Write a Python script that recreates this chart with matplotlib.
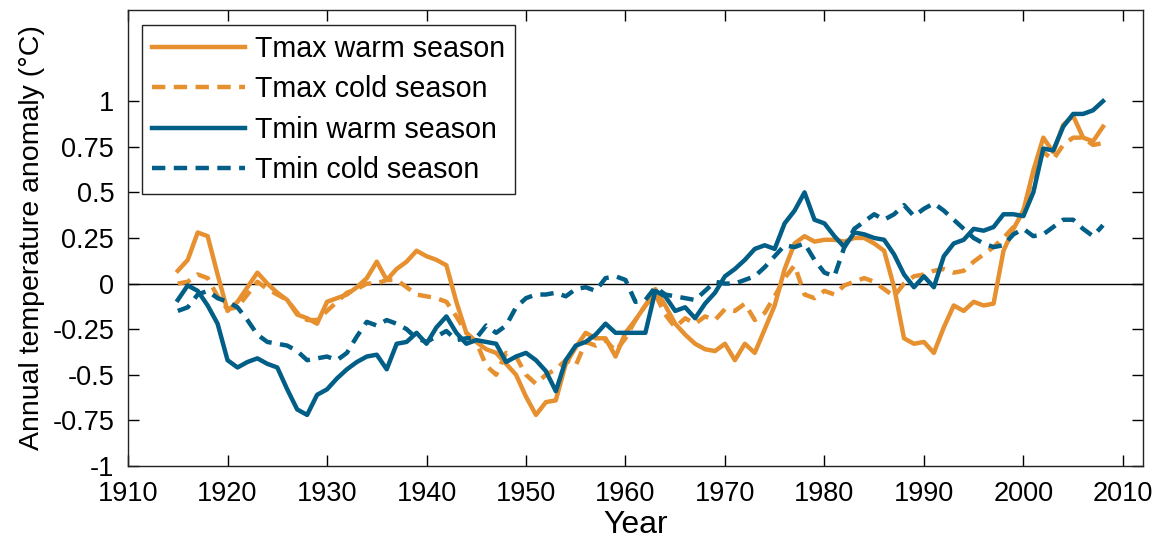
import matplotlib
matplotlib.use("Agg")
import matplotlib.pyplot as plt
import numpy as np

# yearly anomalies, 1915-2008
years = np.arange(1915, 2009)

tmax_warm = [
    0.07, 0.13, 0.28, 0.26, 0.05, -0.15, -0.10, -0.02, 0.06, 0.00,
    -0.05, -0.09, -0.17, -0.19, -0.22, -0.10, -0.08, -0.06, -0.02, 0.03,
    0.12, 0.02, 0.08, 0.12, 0.18, 0.15, 0.13, 0.10, -0.10, -0.27,
    -0.32, -0.36, -0.38, -0.44, -0.50, -0.62, -0.72, -0.65, -0.64, -0.44,
    -0.35, -0.27, -0.30, -0.30, -0.40, -0.27, -0.20, -0.12, -0.03, -0.12,
    -0.22, -0.28, -0.33, -0.36, -0.37, -0.33, -0.42, -0.33, -0.38, -0.25,
    -0.12, 0.08, 0.22, 0.26, 0.23, 0.24, 0.24, 0.23, 0.25, 0.25,
    0.22, 0.18, -0.02, -0.30, -0.33, -0.32, -0.38, -0.24, -0.12, -0.15,
    -0.10, -0.12, -0.11, 0.18, 0.30, 0.40, 0.62, 0.80, 0.72, 0.87,
    0.92, 0.80, 0.78, 0.86,
]

tmax_cold = [
    0.00, 0.01, 0.05, 0.03, -0.07, -0.14, -0.13, -0.06, 0.01, -0.03,
    -0.06, -0.09, -0.16, -0.20, -0.20, -0.15, -0.10, -0.05, -0.03, 0.00,
    0.00, 0.02, 0.02, -0.02, -0.06, -0.07, -0.08, -0.10, -0.18, -0.27,
    -0.32, -0.45, -0.50, -0.38, -0.40, -0.50, -0.55, -0.50, -0.47, -0.42,
    -0.45, -0.32, -0.34, -0.31, -0.37, -0.30, -0.20, -0.12, -0.06, -0.17,
    -0.24, -0.19, -0.22, -0.18, -0.20, -0.14, -0.15, -0.11, -0.20, -0.16,
    -0.07, 0.03, 0.10, -0.06, -0.08, -0.04, -0.06, -0.01, 0.01, 0.03,
    0.01, -0.03, -0.07, 0.00, 0.04, 0.05, 0.07, 0.08, 0.06, 0.07,
    0.12, 0.16, 0.20, 0.25, 0.31, 0.40, 0.60, 0.72, 0.68, 0.76,
    0.80, 0.80, 0.76, 0.77,
]

tmin_warm = [
    -0.09, -0.01, -0.04, -0.12, -0.22, -0.42, -0.46, -0.43, -0.41, -0.44,
    -0.46, -0.58, -0.69, -0.72, -0.61, -0.58, -0.52, -0.47, -0.43, -0.40,
    -0.39, -0.47, -0.33, -0.32, -0.27, -0.33, -0.24, -0.18, -0.27, -0.33,
    -0.31, -0.32, -0.33, -0.43, -0.40, -0.38, -0.42, -0.48, -0.59, -0.42,
    -0.34, -0.32, -0.28, -0.22, -0.27, -0.27, -0.27, -0.27, -0.04, -0.07,
    -0.15, -0.13, -0.19, -0.11, -0.05, 0.04, 0.08, 0.13, 0.19, 0.21,
    0.19, 0.33, 0.40, 0.50, 0.35, 0.33, 0.26, 0.20, 0.28, 0.27,
    0.25, 0.24, 0.16, 0.05, -0.02, 0.04, -0.02, 0.15, 0.22, 0.24,
    0.30, 0.29, 0.31, 0.38, 0.38, 0.37, 0.50, 0.74, 0.73, 0.86,
    0.93, 0.93, 0.95, 1.00,
]

tmin_cold = [
    -0.15, -0.13, -0.06, -0.04, -0.08, -0.10, -0.13, -0.20, -0.28, -0.32,
    -0.33, -0.34, -0.37, -0.42, -0.41, -0.40, -0.42, -0.38, -0.29, -0.21,
    -0.23, -0.20, -0.22, -0.25, -0.30, -0.32, -0.29, -0.26, -0.31, -0.30,
    -0.30, -0.23, -0.27, -0.23, -0.13, -0.08, -0.06, -0.06, -0.05, -0.07,
    -0.03, -0.02, -0.04, 0.03, 0.04, 0.02, -0.10, -0.09, -0.02, -0.06,
    -0.07, -0.08, -0.09, -0.04, 0.01, 0.00, 0.00, 0.02, 0.04, 0.09,
    0.15, 0.21, 0.20, 0.22, 0.13, 0.06, 0.04, 0.20, 0.30, 0.34,
    0.38, 0.35, 0.38, 0.43, 0.37, 0.41, 0.44, 0.40, 0.35, 0.30,
    0.25, 0.22, 0.20, 0.21, 0.27, 0.30, 0.26, 0.27, 0.31, 0.35,
    0.35, 0.30, 0.26, 0.32,
]

x_ticks = np.arange(1910, 2011, 10)
y_ticks = [-1, -0.75, -0.5, -0.25, 0, 0.25, 0.5, 0.75, 1]
y_ticklabels = ['-1', '-0.75', '-0.5', '-0.25', '0', '0.25', '0.5', '0.75', '1']

orange = '#E69030'
blue = '#005E87'

plt.rcParams['font.family'] = ['Liberation Sans', 'DejaVu Sans']

fig = plt.figure(figsize=(11.61, 5.45), dpi=100)
ax = fig.add_axes([0.1103, 0.145, 0.874, 0.8367])

lw = 3.2
dash = (3.0, 1.9)
ax.axhline(0, color='black', linewidth=1.0, zorder=1)
ax.plot(years, tmax_warm, color=orange, linewidth=lw, label='Tmax warm season', zorder=2)
ax.plot(years, tmax_cold, color=orange, linewidth=lw, linestyle=(0, dash), label='Tmax cold season', zorder=2)
ax.plot(years, tmin_warm, color=blue, linewidth=lw, label='Tmin warm season', zorder=3)
ax.plot(years, tmin_cold, color=blue, linewidth=lw, linestyle=(0, dash), label='Tmin cold season', zorder=3)

ax.set_xlim(1910, 2012)
ax.set_ylim(-1, 1.5)
ax.set_xticks(x_ticks)
ax.set_yticks(y_ticks)
ax.set_yticklabels(y_ticklabels)
ax.tick_params(direction='in', top=True, right=True, length=8, width=1,
               labelsize=19.5)
ax.tick_params(axis='x', pad=11)
ax.tick_params(axis='y', pad=10)
for s in ax.spines.values():
    s.set_linewidth(1.0)
    s.set_color('#222222')

ax.set_xlabel('Year', fontsize=23, labelpad=2)
ax.set_ylabel('Annual temperature anomaly (°C)', fontsize=20.5, labelpad=5)

leg = ax.legend(loc='upper left', bbox_to_anchor=(0.0138, 0.967), fontsize=20.6,
                frameon=True, fancybox=False, shadow=False, framealpha=1,
                edgecolor='#222222', handlelength=3.25, handletextpad=0.35,
                labelspacing=0.43, borderpad=0.35, borderaxespad=0)
leg.get_frame().set_linewidth(1.0)

fig.savefig('out.png', dpi=100)
